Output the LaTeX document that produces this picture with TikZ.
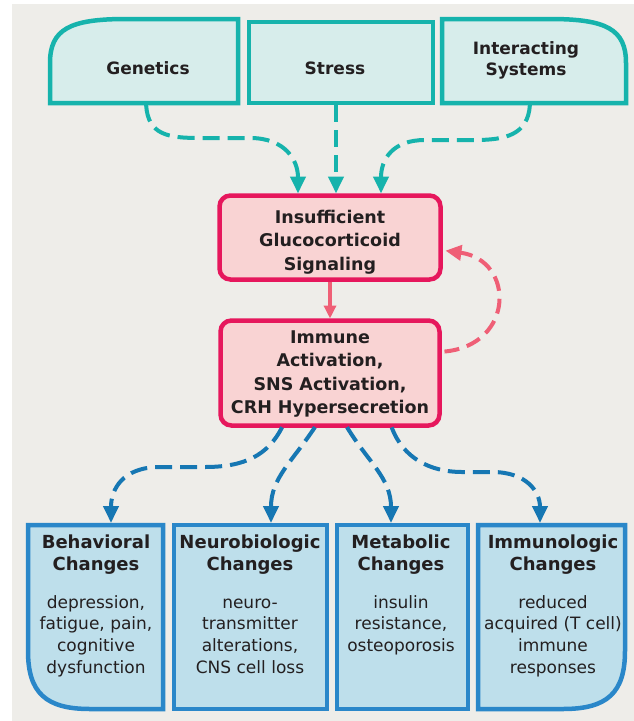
\documentclass[tikz,border=0pt]{standalone}
\usepackage{fontspec}
\setmainfont{DejaVu Sans}
\usetikzlibrary{arrows.meta}
\definecolor{bgc}{HTML}{EEEDE9}
\definecolor{tealB}{HTML}{16B3AC}
\definecolor{tealF}{HTML}{D7EDEB}
\definecolor{pinkB}{HTML}{E6175C}
\definecolor{pinkF}{HTML}{F9D3D3}
\definecolor{pinkA}{HTML}{EF5F76}
\definecolor{blueB}{HTML}{2A87C9}
\definecolor{blueF}{HTML}{BEDFEB}
\definecolor{blueA}{HTML}{1677B3}
\definecolor{txt}{HTML}{231F20}
\begin{document}
\begin{tikzpicture}[x=1pt,y=-1pt,
  shapebox/.style={inner sep=0pt, outer sep=0pt},
  tline/.style={draw=tealB, fill=tealF, line width=4.5pt},
  pline/.style={draw=pinkB, fill=pinkF, line width=4.5pt, rounded corners=11pt},
  bline/.style={draw=blueB, fill=blueF, line width=4.5pt},
  toptxt/.style={font=\fontsize{17}{21}\selectfont\bfseries, text=txt, align=center, inner sep=0pt, anchor=north},
  midtxt/.style={font=\fontsize{17.5}{23.5}\selectfont\bfseries, text=txt, align=center, inner sep=0pt, anchor=north},
  ttl/.style={font=\fontsize{18}{22}\selectfont\bfseries, text=txt, align=center, inner sep=0pt, anchor=north},
  bdy/.style={font=\fontsize{17}{21.7}\selectfont, text=txt, align=center, inner sep=0pt, anchor=north},
  tarr/.style={draw=tealB, line width=4pt, dash pattern=on 17pt off 8pt, shorten <=2pt, shorten >=2pt, -{Triangle[length=17pt,width=15pt]}},
  barr/.style={draw=blueA, line width=4pt, dash pattern=on 17pt off 8pt, shorten <=2pt, shorten >=2pt, -{Triangle[length=17pt,width=15pt]}},
  parr/.style={draw=pinkA, line width=3.5pt, shorten <=2pt, shorten >=2pt, -{Triangle[length=13pt,width=12pt]}},
  pdash/.style={draw=pinkA, line width=4pt, dash pattern=on 15pt off 8pt, shorten <=5pt, shorten >=5pt, -{Triangle[length=16pt,width=15pt]}},
]
\useasboundingbox (0,0) rectangle (634,721);
\fill[bgc] (12,4) rectangle (634,721);

% ---- top boxes
\node[shapebox, minimum width=188pt, minimum height=84pt] (gen) at (144,61) {};
\draw[tline] (gen.south west) -- ([yshift=40pt]gen.south west)
  .. controls ([yshift=74pt]gen.south west) and ([xshift=20pt]gen.north west) .. ([xshift=76pt]gen.north west)
  -- (gen.north east) -- (gen.south east) -- cycle;
\node[shapebox, tline, minimum width=184pt, minimum height=81pt] (str) at (341,62.5) {};
\node[shapebox, minimum width=184pt, minimum height=84pt] (ints) at (534,61) {};
\draw[tline] (ints.south east) -- ([yshift=40pt]ints.south east)
  .. controls ([yshift=74pt]ints.south east) and ([xshift=-20pt]ints.north east) .. ([xshift=-76pt]ints.north east)
  -- (ints.north west) -- (ints.south west) -- cycle;

\node[toptxt] (gent) at (148,60) {\rule{0pt}{14pt}Genetics};
\node[toptxt] (strt) at (335,60) {\rule{0pt}{14pt}Stress};
\node[toptxt] (intt) at (526,40) {\rule{0pt}{14pt}Interacting\\Systems};

% ---- middle boxes
\node[shapebox, pline, minimum width=221pt, minimum height=84pt] (insuf) at (330,237.5) {};
\node[shapebox, pline, minimum width=219pt, minimum height=105pt] (immu) at (330,373) {};
\node[midtxt] (insuft) at (330,209) {\rule{0pt}{14pt}Insufficient\\Glucocorticoid\\Signaling};
\node[midtxt] (immut) at (330,329) {\rule{0pt}{14pt}Immune\\Activation,\\SNS Activation,\\CRH Hypersecretion};

% ---- bottom boxes
\node[shapebox, minimum width=135pt, minimum height=184pt] (beh) at (95.5,617) {};
\draw[bline] (beh.north west) -- (beh.north east) -- (beh.south east) -- ([xshift=62pt]beh.south west)
  .. controls ([xshift=18pt]beh.south west) and ([yshift=16pt]beh.south west) .. ([yshift=58pt]beh.south west) -- cycle;
\node[shapebox, bline, minimum width=153pt, minimum height=184pt] (neu) at (250.5,617) {};
\node[shapebox, bline, minimum width=131pt, minimum height=184pt] (met) at (402.5,617) {};
\node[shapebox, minimum width=147pt, minimum height=184pt] (imn) at (551.5,617) {};
\draw[bline] (imn.north west) -- (imn.north east) -- ([yshift=58pt]imn.south east)
  .. controls ([yshift=16pt]imn.south east) and ([xshift=-18pt]imn.south east) .. ([xshift=-62pt]imn.south east)
  -- (imn.south west) -- cycle;

\node[ttl] (beht) at (96,534) {\rule{0pt}{14pt}Behavioral\\Changes};
\node[bdy] (behb) at (96,595) {\rule{0pt}{13pt}depression,\\fatigue, pain,\\cognitive\\dysfunction};
\node[ttl] (neut) at (250,534) {\rule{0pt}{14pt}Neurobiologic\\Changes};
\node[bdy] (neub) at (250,595) {\rule{0pt}{13pt}neuro-\\transmitter\\alterations,\\CNS cell loss};
\node[ttl] (mett) at (401,534) {\rule{0pt}{14pt}Metabolic\\Changes};
\node[bdy] (metb) at (401,595) {\rule{0pt}{13pt}insulin\\resistance,\\osteoporosis};
\node[ttl] (imnt) at (553,534) {\rule{0pt}{14pt}Immunologic\\Changes};
\node[bdy] (imnb) at (553,595) {\rule{0pt}{13pt}reduced\\acquired (T cell)\\immune\\responses};

% ---- teal arrows
\draw[tarr] ([xshift=2pt]gen.south) .. controls (148,135) and (168,138) .. (200,138) -- (250,138)
  .. controls (285,138) and (298,160) .. ([xshift=-32pt]insuf.north);
\draw[tarr] ([xshift=-5pt]str.south) -- ([xshift=6pt]insuf.north);
\draw[tarr] ([xshift=-4pt]ints.south) .. controls (528,135) and (505,140) .. (475,140) -- (425,140)
  .. controls (392,140) and (381,160) .. ([xshift=51pt]insuf.north);

% ---- pink arrows
\draw[parr] (insuf.south) -- (immu.north);
\draw[pdash] ([yshift=21pt]immu.east) .. controls (515,345) and (515,260) .. ([yshift=-12.5pt]insuf.east);

% ---- blue arrows
\draw[barr] ([xshift=-47pt]immu.south) .. controls (268,455) and (245,467) .. (205,467) -- (160,467)
  .. controls (122,467) and (111,490) .. ([xshift=15.5pt]beh.north);
\draw[barr] ([xshift=-14pt]immu.south) .. controls (292,462) and (271,478) .. ([xshift=20.5pt]neu.north);
\draw[barr] ([xshift=16pt]immu.south) .. controls (368,462) and (391,478) .. ([xshift=-11.5pt]met.north);
\draw[barr] ([xshift=61pt]immu.south) .. controls (403,458) and (430,472) .. (462,472) -- (492,472)
  .. controls (527,472) and (540,492) .. ([xshift=-11.5pt]imn.north);
\end{tikzpicture}
\end{document}
